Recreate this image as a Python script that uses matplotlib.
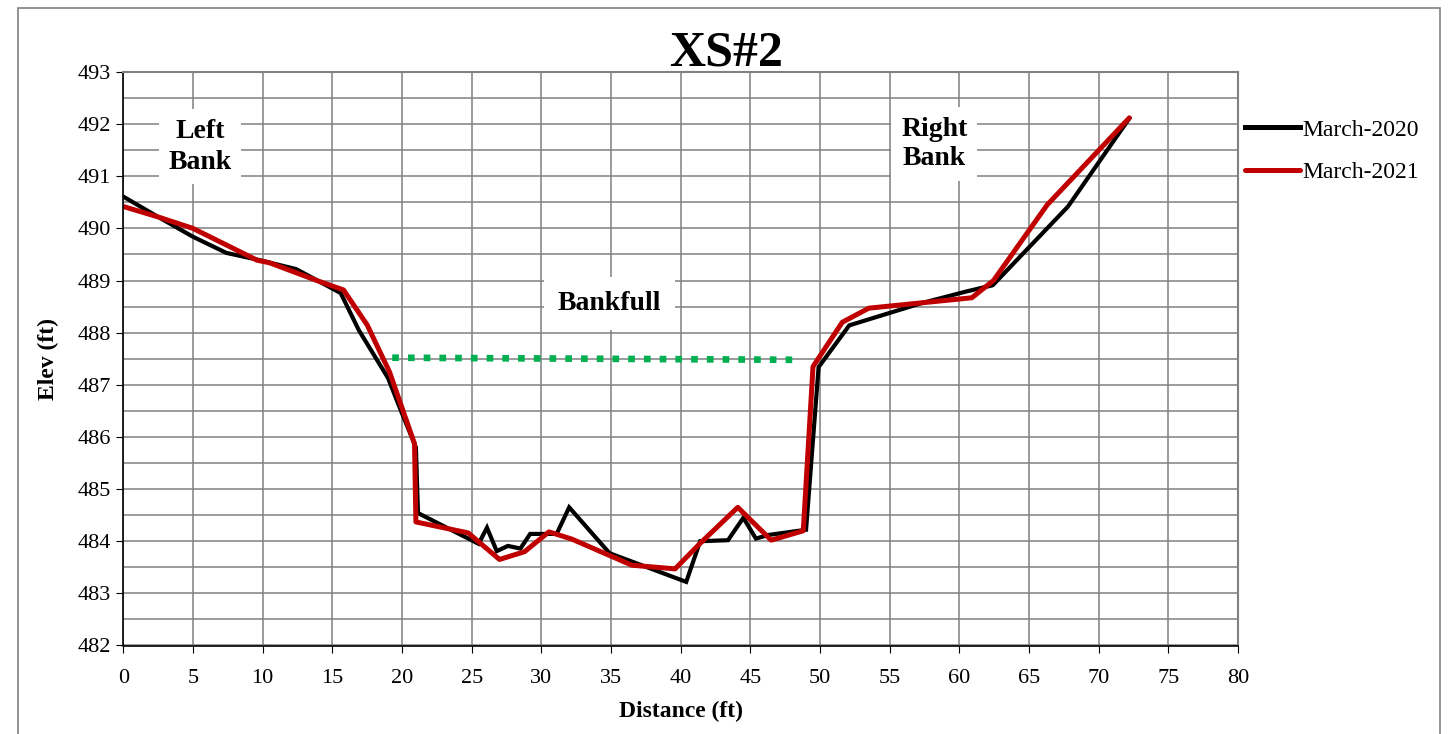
import matplotlib.pyplot as plt
from matplotlib.patches import Rectangle
import numpy as np

plt.rcParams['font.family'] = ['Liberation Serif', 'DejaVu Serif']

# Cross section XS#2 survey data (distance ft, elevation ft)
dist_2020 = [0, 2.5, 5.0, 7.4, 9.8, 12.4, 15.6, 16.9, 19.0, 19.9, 21.0, 21.15,
             25.5, 26.1, 26.8, 27.6, 28.5, 29.2, 31.1, 32.0, 34.9, 36.6, 40.4,
             41.4, 43.4, 44.5, 45.4, 46.3, 49.0, 49.9, 52.1, 57.2, 60.5, 62.4,
             67.8, 72.2]
elev_2020 = [490.61, 490.22, 489.84, 489.53, 489.39, 489.22, 488.76, 488.05,
             487.13, 486.52, 485.8, 484.54, 483.95, 484.26, 483.81, 483.91,
             483.86, 484.14, 484.14, 484.65, 483.77, 483.6, 483.22, 484.0,
             484.02, 484.45, 484.05, 484.12, 484.22, 487.34, 488.14, 488.56,
             488.79, 488.91, 490.42, 492.11]

dist_2021 = [0, 2.5, 5.0, 9.6, 10.5, 14.1, 15.8, 17.5, 19.1, 20.9, 21.0, 24.75,
             27.0, 28.8, 30.55, 32.2, 36.5, 39.6, 41.4, 44.1, 46.5, 48.8, 49.5,
             51.6, 53.5, 60.9, 62.45, 66.3, 72.2]
elev_2021 = [490.42, 490.22, 490.0, 489.39, 489.34, 488.98, 488.82, 488.15,
             487.25, 485.87, 484.37, 484.16, 483.65, 483.8, 484.18, 484.04,
             483.54, 483.47, 483.96, 484.65, 484.02, 484.2, 487.35, 488.2,
             488.47, 488.67, 489.0, 490.45, 492.12]

bankfull_x = [19.3, 48.1]
bankfull_y = [487.52, 487.48]

fig = plt.figure(figsize=(14.52, 7.34), dpi=100)
ax = fig.add_axes([123.3 / 1452, 1 - 645.5 / 734, (1238 - 123.3) / 1452, (645.5 - 72) / 734])

# grid: every 5 ft across, every 0.5 ft up
ax.set_xlim(0, 80)
ax.set_ylim(482, 493)
ax.set_xticks(np.arange(0, 81, 5))
ax.set_yticks(np.arange(482, 494, 1))
ax.set_yticks(np.arange(482.5, 493, 1), minor=True)
ax.grid(True, which='both', color='#808080', linewidth=1.1)
ax.set_axisbelow(True)
ax.tick_params(axis='both', which='major', direction='out', length=5, labelsize=16, color='black')
ax.tick_params(axis='x', which='major', pad=12)
ax.tick_params(axis='y', which='major', pad=4)
ax.tick_params(axis='y', which='minor', length=0)
for s in ['top', 'right']:
    ax.spines[s].set_color('#808080')
    ax.spines[s].set_linewidth(1.5)
for s in ['left', 'bottom']:
    ax.spines[s].set_color('black')
    ax.spines[s].set_linewidth(1.2)

ax.plot(bankfull_x, bankfull_y, color='#00B050', linewidth=4.8,
        linestyle=(0, (1, 1.36)), solid_capstyle='butt', dash_capstyle='butt')
ax.plot(dist_2020, elev_2020, color='black', linewidth=3.0, label='March-2020',
        solid_joinstyle='miter')
ax.plot(dist_2021, elev_2021, color='#C00000', linewidth=3.6, label='March-2021',
        solid_joinstyle='round', solid_capstyle='round')

box = dict(facecolor='white', edgecolor='none', pad=7)
ax.text(5.5, 491.57, 'Left\nBank', ha='center', va='center', fontsize=20,
        fontweight='bold', bbox=box, linespacing=1.32)
ax.text(58.2, 491.62, 'Right\nBank', ha='center', va='center', fontsize=20,
        fontweight='bold', bbox=box, linespacing=1.25)
ax.text(34.9, 488.56, 'Bankfull', ha='center', va='center', fontsize=20,
        fontweight='bold', bbox=dict(facecolor='white', edgecolor='none', pad=10))

ax.set_xlabel('Distance (ft)', fontsize=17, fontweight='bold', labelpad=9)
ax.set_ylabel('Elev (ft)', fontsize=17, fontweight='bold', labelpad=13)

fig.text(0.5, 1 - 66 / 734, 'XS#2', ha='center', va='baseline', fontsize=36,
         fontweight='bold')

leg = ax.legend(loc='upper left', bbox_to_anchor=(1245 / 1452, 1 - 119 / 734),
                bbox_transform=fig.transFigure, frameon=False, fontsize=17,
                handlelength=2.35, handletextpad=0.1, labelspacing=0.88,
                borderpad=0, borderaxespad=0)
for h in leg.get_lines():
    h.set_linewidth(3.6)

fig.add_artist(Rectangle((18 / 1452, -0.02), 1422 / 1452, 1.02 - 8 / 734,
                         transform=fig.transFigure, fill=False,
                         edgecolor='#808080', linewidth=1.2))

fig.savefig('out.png', dpi=100)
